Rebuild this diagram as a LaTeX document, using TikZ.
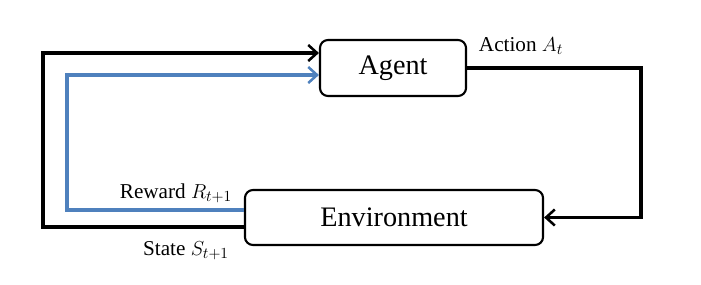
\documentclass[tikz,border=0pt]{standalone}
\usepackage{fontspec}
\setmainfont{Liberation Serif}
\usetikzlibrary{arrows.meta}
\definecolor{rewardblue}{RGB}{79,129,189}
\tikzset{
  box/.style={draw,line width=1.5pt,rounded corners=0.2cm,font=\fontsize{20bp}{24bp}\selectfont},
  loopline/.style={line width=2.5pt,-{Straight Barb[length=2.2mm,width=4mm,line width=1.8pt]}},
  lbl/.style={font=\fontsize{15bp}{18bp}\selectfont}
}
\begin{document}
\begin{tikzpicture}[x=0.025cm,y=-0.025cm]
\useasboundingbox (0,0) rectangle (701,284);
\node[box,minimum width=3.65cm,minimum height=1.4cm] (agent) at (393,68) {Agent};
\node[box,minimum width=7.45cm,minimum height=1.375cm] (env) at (394,217.5) {Environment};
\draw[loopline] (agent.east) -- ++(174,0) |- (env.east);
\draw[loopline] ([yshift=-0.2375cm]env.west) -- ++(-201,0) |- ([yshift=0.375cm]agent.west);
\draw[loopline,rewardblue,line width=2.5pt] ([yshift=0.1875cm]env.west) -- ++(-177,0) |- ([yshift=-0.175cm]agent.west);
\node[lbl] (action) at (521,46) {Action $A_t$};
\node[lbl] (reward) at (176,193) {Reward $R_{t+1}$};
\node[lbl] (state) at (186,251) {State $S_{t+1}$};
\end{tikzpicture}
\end{document}
